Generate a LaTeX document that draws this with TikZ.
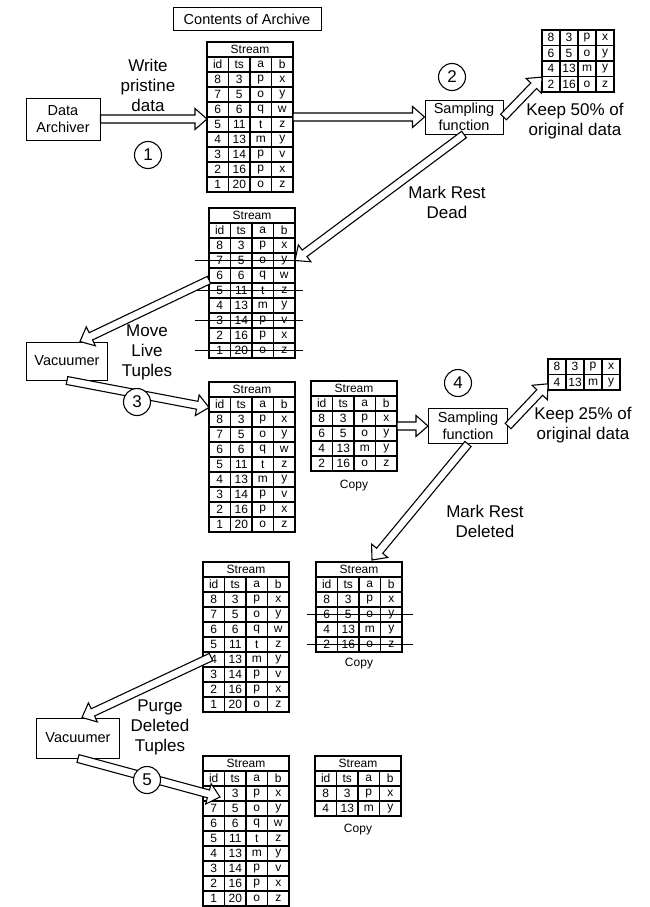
\documentclass[tikz,border=0pt]{standalone}
\usepackage{fontspec}
\setmainfont{Liberation Sans}
\usetikzlibrary{positioning,calc}
\tikzset{
  box/.style={draw, line width=1pt, align=center, inner sep=1pt, font=\fontsize{14.5}{16.5}\selectfont},
  rnd/.style={draw, circle, line width=1.1pt, fill=white, minimum size=27pt, inner sep=0pt, font=\fontsize{17}{17}\selectfont},
  txt/.style={align=center, inner sep=0pt, font=\fontsize{17}{20}\selectfont},
  cpl/.style={inner sep=0pt, font=\fontsize{12}{12}\selectfont},
  frame/.style={draw, line width=1.2pt, anchor=north west, inner sep=0pt, outer sep=0pt},
  cell/.style={inner sep=0pt, font=\fontsize{12}{12}\selectfont},
  grid/.style={line width=1.1pt},
  cut/.style={line width=1.1pt},
  fat/.style={draw, line width=1.1pt, fill=white, line join=miter},
}
% name, corner, rows, data
\newcommand\streamtab[4]{%
  \node[frame, minimum width=86pt, minimum height={(#3+2)*15pt}] (#1) at (#2) {};
  \foreach \k in {0,...,#3} \draw[grid] ($(#1.north west)+(0,15+15*\k)$) -- ++(86,0);
  \foreach \x in {21.5,43,64.5} \draw[grid] ($(#1.north west)+(\x,15)$) -- ($(#1.south west)+(\x,0)$);
  \node[cell] at ($(#1.north west)+(43,7.5)$) {Stream};
  \foreach \ca/\cb/\cc/\cd [count=\rw from 0] in {id/ts/a/b,#4} {
    \node[cell] at ($(#1.north west)+(10.75,22.5+15*\rw)$) {\ca};
    \node[cell] at ($(#1.north west)+(32.25,22.5+15*\rw)$) {\cb};
    \node[cell] at ($(#1.north west)+(53.75,22.5+15*\rw)$) {\cc};
    \node[cell] at ($(#1.north west)+(75.25,22.5+15*\rw)$) {\cd};
  }}
\newcommand\keeptab[4]{%
  \node[frame, minimum width=72pt, minimum height={#3*15.5pt}] (#1) at (#2) {};
  \foreach \k in {1,...,#3} \draw[grid] ($(#1.north west)+(0,15.5*\k)$) -- ++(72,0);
  \foreach \x in {18,36,54} \draw[grid] ($(#1.north west)+(\x,0)$) -- ($(#1.south west)+(\x,0)$);
  \foreach \ca/\cb/\cc/\cd [count=\rw from 0] in {#4} {
    \node[cell] at ($(#1.north west)+(9,7.75+15.5*\rw)$) {\ca};
    \node[cell] at ($(#1.north west)+(27,7.75+15.5*\rw)$) {\cb};
    \node[cell] at ($(#1.north west)+(45,7.75+15.5*\rw)$) {\cc};
    \node[cell] at ($(#1.north west)+(63,7.75+15.5*\rw)$) {\cd};
  }}
\newcommand\strike[4]{\draw[cut] ($(#1.north west)+(-#3,22.5+15*#2)$) -- ($(#1.north east)+(#4,22.5+15*#2)$);}
\newcommand\fatarrow[2]{%
  \coordinate (fh) at ($(#2)!12pt!(#1)$);
  \draw[fat] ($(#1)!4pt!90:(#2)$) -- ($(fh)!4pt!-90:(#1)$) -- ($(fh)!10.5pt!-90:(#1)$) -- (#2)
    -- ($(fh)!10.5pt!90:(#1)$) -- ($(fh)!4pt!90:(#1)$) -- ($(#1)!4pt!-90:(#2)$) -- cycle;}

\begin{document}
\begin{tikzpicture}[x=1pt,y=-1pt]
  \useasboundingbox (0,0) rectangle (649,907);
  \node[box, minimum width=148pt, minimum height=23pt] (coa) at (247,19) {Contents of Archive};
  \node[box, minimum width=74pt, minimum height=42pt] (arch) at (63,119) {Data\\Archiver};
  \node[box, minimum width=78pt, minimum height=34pt] (samp1) at (464,117) {Sampling\\function};
  \node[box, minimum width=81pt, minimum height=38pt] (vac1) at (67,361) {Vacuumer};
  \node[box, minimum width=79pt, minimum height=35pt] (samp2) at (468,426) {Sampling\\function};
  \node[box, minimum width=83pt, minimum height=40pt] (vac2) at (78,738) {Vacuumer};

  \streamtab{t1}{207,42}{8}{8/3/p/x,7/5/o/y,6/6/q/w,5/11/t/z,4/13/m/y,3/14/p/v,2/16/p/x,1/20/o/z}
  \keeptab{s1}{542,30}{4}{8/3/p/x,6/5/o/y,4/13/m/y,2/16/o/z}
  \streamtab{t2}{209,208}{8}{8/3/p/x,7/5/o/y,6/6/q/w,5/11/t/z,4/13/m/y,3/14/p/v,2/16/p/x,1/20/o/z}
  \foreach \s in {2,4,6,8} \strike{t2}{\s}{14}{8};
  \streamtab{t3}{209,382}{8}{8/3/p/x,7/5/o/y,6/6/q/w,5/11/t/z,4/13/m/y,3/14/p/v,2/16/p/x,1/20/o/z}
  \streamtab{cp1}{311,381}{4}{8/3/p/x,6/5/o/y,4/13/m/y,2/16/o/z}
  \keeptab{s2}{548,359}{2}{8/3/p/x,4/13/m/y}
  \streamtab{t4}{203,562}{8}{8/3/p/x,7/5/o/y,6/6/q/w,5/11/t/z,4/13/m/y,3/14/p/v,2/16/p/x,1/20/o/z}
  \streamtab{cp2}{316,562}{4}{8/3/p/x,6/5/o/y,4/13/m/y,2/16/o/z}
  \strike{cp2}{2}{9}{11}\strike{cp2}{4}{9}{11}
  \streamtab{t5}{203,756}{8}{8/3/p/x,7/5/o/y,6/6/q/w,5/11/t/z,4/13/m/y,3/14/p/v,2/16/p/x,1/20/o/z}
  \streamtab{cp3}{315,756}{2}{8/3/p/x,4/13/m/y}
  \node[cpl, below=9pt of cp1] (cl1) {Copy};
  \node[cpl, below=6pt of cp2] (cl2) {Copy};
  \node[cpl, below=8pt of cp3] (cl3) {Copy};

  \coordinate (a1) at (t1.west |- arch.east);
  \coordinate (k1) at ($(s1.north west)!.76!(s1.south west)$);
  \coordinate (d1) at ($(t2.north east)!.35!(t2.south east)$);
  \coordinate (d2) at ($(t2.north west)!.48!(t2.south west)$);
  \coordinate (v1) at ($(vac1.north)+(13,0)$);
  \coordinate (m3) at ($(t3.north west)!.17!(t3.south west)$);
  \coordinate (k2) at ($(s2.north west)!.8!(s2.south west)$);
  \coordinate (d3) at ($(cp2.north)+(13,-2)$);
  \coordinate (d4) at ($(t4.north west)+(8,95)$);
  \coordinate (v2) at ($(vac2.north)+(4,0)$);
  \coordinate (m5) at ($(t5.north west)+(17,41)$);
  \fatarrow{arch.east}{a1}\fatarrow{t1.east}{samp1.west}\fatarrow{samp1.east}{k1}
  \fatarrow{samp1.south}{d1}\fatarrow{d2}{v1}\fatarrow{vac1.south}{m3}
  \fatarrow{cp1.east}{samp2.west}\fatarrow{samp2.east}{k2}\fatarrow{samp2.south}{d3}
  \fatarrow{d4}{v2}\fatarrow{vac2.south}{m5}

  \node[rnd] (n1) at (148,155) {1};
  \node[rnd] (n2) at (452,77) {2};
  \node[rnd] (n3) at (137,402) {3};
  \node[rnd] (n4) at (458,383) {4};
  \node[rnd] (n5) at (147,780) {5};
  \node[txt] (wr) at (148,85) {Write\\pristine\\data};
  \node[txt] (k50) at (575,121) {Keep 50\% of\\original data};
  \node[txt] (mrd) at (447,202) {Mark Rest\\Dead};
  \node[txt] (mlt) at (147,352) {Move\\Live\\Tuples};
  \node[txt] (k25) at (583,425) {Keep 25\% of\\original data};
  \node[txt] (mrx) at (485,521) {Mark Rest\\Deleted};
  \node[txt] (pdt) at (160,727) {Purge\\Deleted\\Tuples};
\end{tikzpicture}
\end{document}
